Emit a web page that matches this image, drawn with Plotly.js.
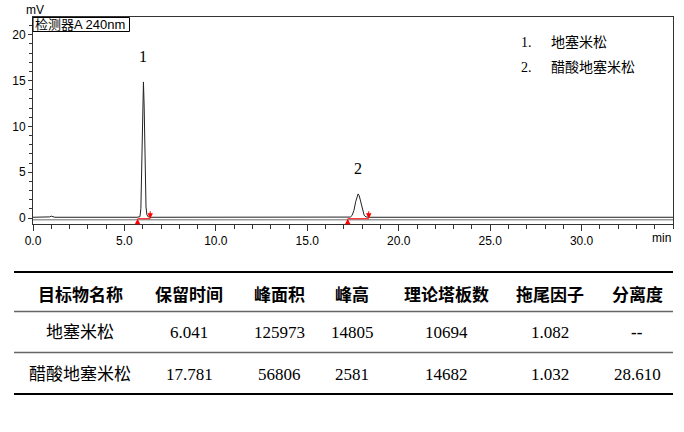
<!DOCTYPE html>
<html><head><meta charset="utf-8">
<script src="https://cdn.plot.ly/plotly-3.0.1.min.js"></script>
<style>html,body{margin:0;padding:0;background:#fff;}#chart{width:684px;height:432px;}</style>
</head><body><div id="chart"></div>
<script>
// ---- chromatogram (time in min, signal in mV) ----
const timeMin  = [0, 0.8, 0.9, 1.0, 1.1, 1.2, 5.7, 5.85, 5.9, 5.95, 6.0, 6.04, 6.08, 6.13, 6.18, 6.23, 6.3, 6.45,
                  17.2, 17.35, 17.45, 17.55, 17.65, 17.72, 17.78, 17.84, 17.91, 18.01, 18.11, 18.21, 18.35, 35];
const signalMv = [0.08, 0.08, 0.12, 0.2, 0.12, 0.08, 0.08, 0.15, 1.05, 4.9, 11.9, 14.85, 12.1, 5.2, 1.2, 0.35, 0.12, 0.08,
                  0.08, 0.1, 0.28, 0.82, 1.8, 2.42, 2.63, 2.43, 1.82, 0.86, 0.3, 0.12, 0.08, 0.08];
const refLineMin = [0, 35];
const refLineMv  = [-0.2, -0.2];

// ---- peaks ----
const peakLabels   = ['1', '2'];
const peakStartMin = [5.72, 17.21];
const peakEndMin   = [6.41, 18.36];
const integBaseMv  = [-0.08, -0.08];

// ---- table values ----
const tableHeader  = ['目标物名称', '保留时间', '峰面积', '峰高', '理论塔板数', '拖尾因子', '分离度'];
const compounds    = ['地塞米松', '醋酸地塞米松'];
const retentionMin = [6.041, 17.781];
const peakArea     = [125973, 56806];
const peakHeightUv = [14805, 2581];
const plates       = [10694, 14682];
const tailing      = [1.082, 1.032];
const resolution   = [null, 28.610];

// ---- axis ticks ----
const xTickVals = [0, 5, 10, 15, 20, 25, 30];
const xTickText = ['0.0', '5.0', '10.0', '15.0', '20.0', '25.0', '30.0'];
const yTickVals = [0, 5, 10, 15, 20];

// ---- layout geometry (pixels) ----
const M = {l: 33, r: 11, t: 17, b: 208};
const PW = 684 - M.l - M.r, PH = 432 - M.t - M.b;
const px = X => (X - M.l) / PW;
const py = Y => (432 - M.b - Y) / PH;

const SERIF = 'Liberation Serif, Noto Sans CJK SC, serif';
const SANS = 'Liberation Sans, Noto Sans CJK SC, sans-serif';
const HEAD = 'Noto Sans CJK SC, sans-serif';

const traces = [
  {x: refLineMin, y: refLineMv, mode: 'lines', line: {color: '#6a6a6a', width: 1}, hoverinfo: 'skip'},
  {x: timeMin, y: signalMv, mode: 'lines', line: {color: '#222', width: 1}, hoverinfo: 'skip'}
];
peakStartMin.forEach((s, i) => {
  traces.push({x: [s, peakEndMin[i]], y: [integBaseMv[i], integBaseMv[i]], mode: 'lines',
               line: {color: '#ff0000', width: 1}, hoverinfo: 'skip'});
});

const annotations = [];
const shapes = [];

// peak number labels
peakLabels.forEach((lab, i) => {
  annotations.push({x: retentionMin[i], y: peakHeightUv[i] / 1000, xref: 'x', yref: 'y', text: lab,
    showarrow: false, yshift: 26, font: {family: SERIF, size: 16, color: '#000'}});
});
// integration markers
peakStartMin.forEach((s, i) => {
  annotations.push({x: s, y: integBaseMv[i], xref: 'x', yref: 'y', text: '', showarrow: true,
    ax: 0, ay: 7, arrowhead: 2, arrowsize: 1.1, arrowwidth: 1, arrowcolor: '#ff0000'});
  annotations.push({x: peakEndMin[i], y: integBaseMv[i], xref: 'x', yref: 'y', text: '', showarrow: true,
    ax: 0, ay: -9, arrowhead: 2, arrowsize: 1.1, arrowwidth: 1, arrowcolor: '#ff0000'});
});
// axis unit labels
annotations.push({x: px(35), y: py(10), xref: 'paper', yref: 'paper', text: 'mV', showarrow: false,
  xanchor: 'center', yanchor: 'middle', font: {family: SANS, size: 12, color: '#000'}});
annotations.push({x: 1, y: py(238), xref: 'paper', yref: 'paper', text: 'min', showarrow: false,
  xanchor: 'right', yanchor: 'middle', font: {family: SANS, size: 12, color: '#000'}});
// detector box
shapes.push({type: 'rect', xref: 'paper', yref: 'paper', x0: px(33), x1: px(129.5), y0: py(31.5), y1: py(17.5),
  line: {color: '#000', width: 1}, fillcolor: 'rgba(0,0,0,0)'});
annotations.push({x: px(33), y: py(24.5), xref: 'paper', yref: 'paper', text: '检测器A 240nm', showarrow: false,
  xanchor: 'left', yanchor: 'middle', font: {family: SANS, size: 13, color: '#000'}});
// legend list
compounds.forEach((c, i) => {
  const Y = 42 + i * 25;
  annotations.push({x: px(519), y: py(Y), xref: 'paper', yref: 'paper', text: (i + 1) + '.', showarrow: false,
    xanchor: 'left', yanchor: 'middle', font: {family: SERIF, size: 14, color: '#000'}});
  annotations.push({x: px(549), y: py(Y), xref: 'paper', yref: 'paper', text: c, showarrow: false,
    xanchor: 'left', yanchor: 'middle', font: {family: SERIF, size: 14, color: '#000'}});
});

// ---- table ----
const colX = [80, 189, 279, 352, 446, 550, 637];
const headerY = 293, rowY = [332, 374];
const rules = [{Y: 272, w: 2, c: '#000'}, {Y: 311.5, w: 1.5, c: '#666'}, {Y: 352.5, w: 1.5, c: '#666'}, {Y: 394, w: 2, c: '#000'}];
rules.forEach(r => shapes.push({type: 'line', xref: 'paper', yref: 'paper', x0: px(14), x1: px(673),
  y0: py(r.Y), y1: py(r.Y), line: {color: r.c, width: r.w}}));
tableHeader.forEach((h, j) => annotations.push({x: px(colX[j]), y: py(headerY), xref: 'paper', yref: 'paper',
  text: '<b>' + h + '</b>', showarrow: false, xanchor: 'center', yanchor: 'middle',
  font: {family: HEAD, size: 17, color: '#000'}}));
compounds.forEach((c, i) => {
  const cells = [c, retentionMin[i].toFixed(3), String(peakArea[i]), String(peakHeightUv[i]), String(plates[i]),
                 tailing[i].toFixed(3), resolution[i] === null ? '<b>--</b>' : resolution[i].toFixed(3)];
  cells.forEach((t, j) => annotations.push({x: px(colX[j]), y: py(rowY[i]), xref: 'paper', yref: 'paper',
    text: t, showarrow: false, xanchor: 'center', yanchor: 'middle',
    font: {family: SERIF, size: 17, color: '#000'}}));
});

const layout = {
  width: 684, height: 432,
  margin: M,
  paper_bgcolor: '#fff', plot_bgcolor: '#fff',
  showlegend: false,
  xaxis: {range: [0, 35], tickvals: xTickVals, ticktext: xTickText, ticks: 'outside', ticklen: 6, tickwidth: 1,
    tickcolor: '#333', showline: true, linecolor: '#333', linewidth: 1, mirror: true, showgrid: false, zeroline: false,
    tickfont: {family: SANS, size: 12, color: '#000'},
    minor: {dtick: 1, tick0: 0, ticks: 'outside', ticklen: 4, tickcolor: '#333', showgrid: false}},
  yaxis: {range: [-0.655, 21.94], tickvals: yTickVals, ticks: 'outside', ticklen: 4, tickwidth: 1,
    tickcolor: '#333', showline: true, linecolor: '#333', linewidth: 1, mirror: true, showgrid: false, zeroline: false,
    tickfont: {family: SANS, size: 12, color: '#000'},
    minor: {dtick: 1, tick0: 0, ticks: 'outside', ticklen: 3, tickcolor: '#333', showgrid: false}},
  annotations: annotations,
  shapes: shapes
};

Plotly.newPlot('chart', traces, layout, {staticPlot: true, displayModeBar: false});
</script>
</body></html>
